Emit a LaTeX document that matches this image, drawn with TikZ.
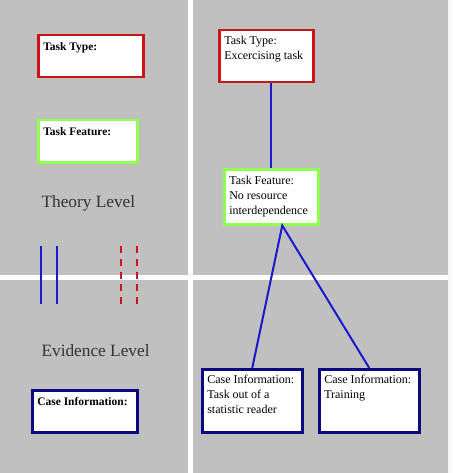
\documentclass[tikz,border=0pt]{standalone}
\usepackage{fontspec}
\setmainfont{Liberation Serif}
\usetikzlibrary{positioning,calc}
\definecolor{fondo}{HTML}{C0C0C0}
\definecolor{rojo}{HTML}{CC1515}
\definecolor{verde}{HTML}{90FF50}
\definecolor{marino}{HTML}{0A0A80}
\definecolor{azul}{HTML}{1A1ACC}
\definecolor{texto}{HTML}{333333}
\tikzset{
    caja/.style={
        rectangle,                % forma básica: rectángulo
        draw=#1,                  % borde con el color del nivel
        fill=white,               % relleno blanco
        line width=2.5pt,         % borde grueso
        inner xsep=5pt,           % margen lateral del texto
        inner ysep=6pt,           % margen superior e inferior
        anchor=north west,        % se coloca por su esquina superior izquierda
        font=\fontsize{12}{15}\selectfont
    },
    cajavacia/.style={
        caja=#1,
        inner ysep=7pt,
        font=\fontsize{11.5}{14}\selectfont\bfseries % cajas de la leyenda: texto en negrita
    },
    nivel/.style={
        anchor=base west,
        text=texto,
        font=\fontsize{17.3}{20}\selectfont
    },
    enlace/.style={draw=azul, line width=2pt} % conectores entre cajas
}
\newcommand{\contenido}[4][t]{\parbox[c][#3][#1]{#2}{\raggedright #4}}

\begin{document}
\begin{tikzpicture}[x=1pt, y=-1pt]
    \useasboundingbox (0,0) rectangle (452,473);
    % fondo y separadores
    \fill[fondo] (0,0) rectangle (452,473);
    \fill[white] (188,0) rectangle (193,473);
    \fill[white] (0,275) rectangle (452,280);
    \fill[white!85!fondo] (448,0) rectangle (452,473);

    % leyenda
    \node[cajavacia=rojo] (lTipo) at (37,34) {\contenido{95pt}{28pt}{Task Type:}};
    \node[cajavacia=verde] (lRasgo) at (37,119) {\contenido{89pt}{28pt}{Task Feature:}};
    \node[nivel] (teoria) at (38,207) {Theory Level};
    \node[nivel] (evidencia) at (38,356) {Evidence Level};
    \node[cajavacia=marino] (lCaso) at (31,389) {\contenido{95pt}{28pt}{Case Information:}};

    \draw[azul, line width=1.8pt] (41,246) -- (41,304);
    \draw[azul, line width=1.8pt] (57,246) -- (57,304);
    \draw[rojo, line width=1.8pt, dash pattern=on 7pt off 5.8pt] (121,246) -- (121,304);
    \draw[rojo, line width=1.8pt, dash pattern=on 7pt off 5.8pt] (137,246) -- (137,304);

    % modelo
    \node[caja=rojo] (rTipo) at (218,29) {\contenido{84pt}{40pt}{Task Type:\\Excercising task}};
    \node[caja=verde] (rRasgo) at (223,168) {\contenido[c]{84pt}{43pt}{Task Feature:\\No resource\\interdependence}};
    \node[caja=marino] (rCaso1) at (201,368) {\contenido{90pt}{51pt}{Case Information:\\Task out of a\\statistic reader}};
    \node[caja=marino] (rCaso2) at (318,368) {\contenido{90pt}{51pt}{Case Information:\\Training}};

    \coordinate (rama) at ([xshift=11pt]rRasgo.south);
    \draw[enlace] (rRasgo.north |- rTipo.south) -- (rRasgo.north);
    \draw[enlace] (rCaso1.north) -- (rama) -- (rCaso2.north);
\end{tikzpicture}
\end{document}
